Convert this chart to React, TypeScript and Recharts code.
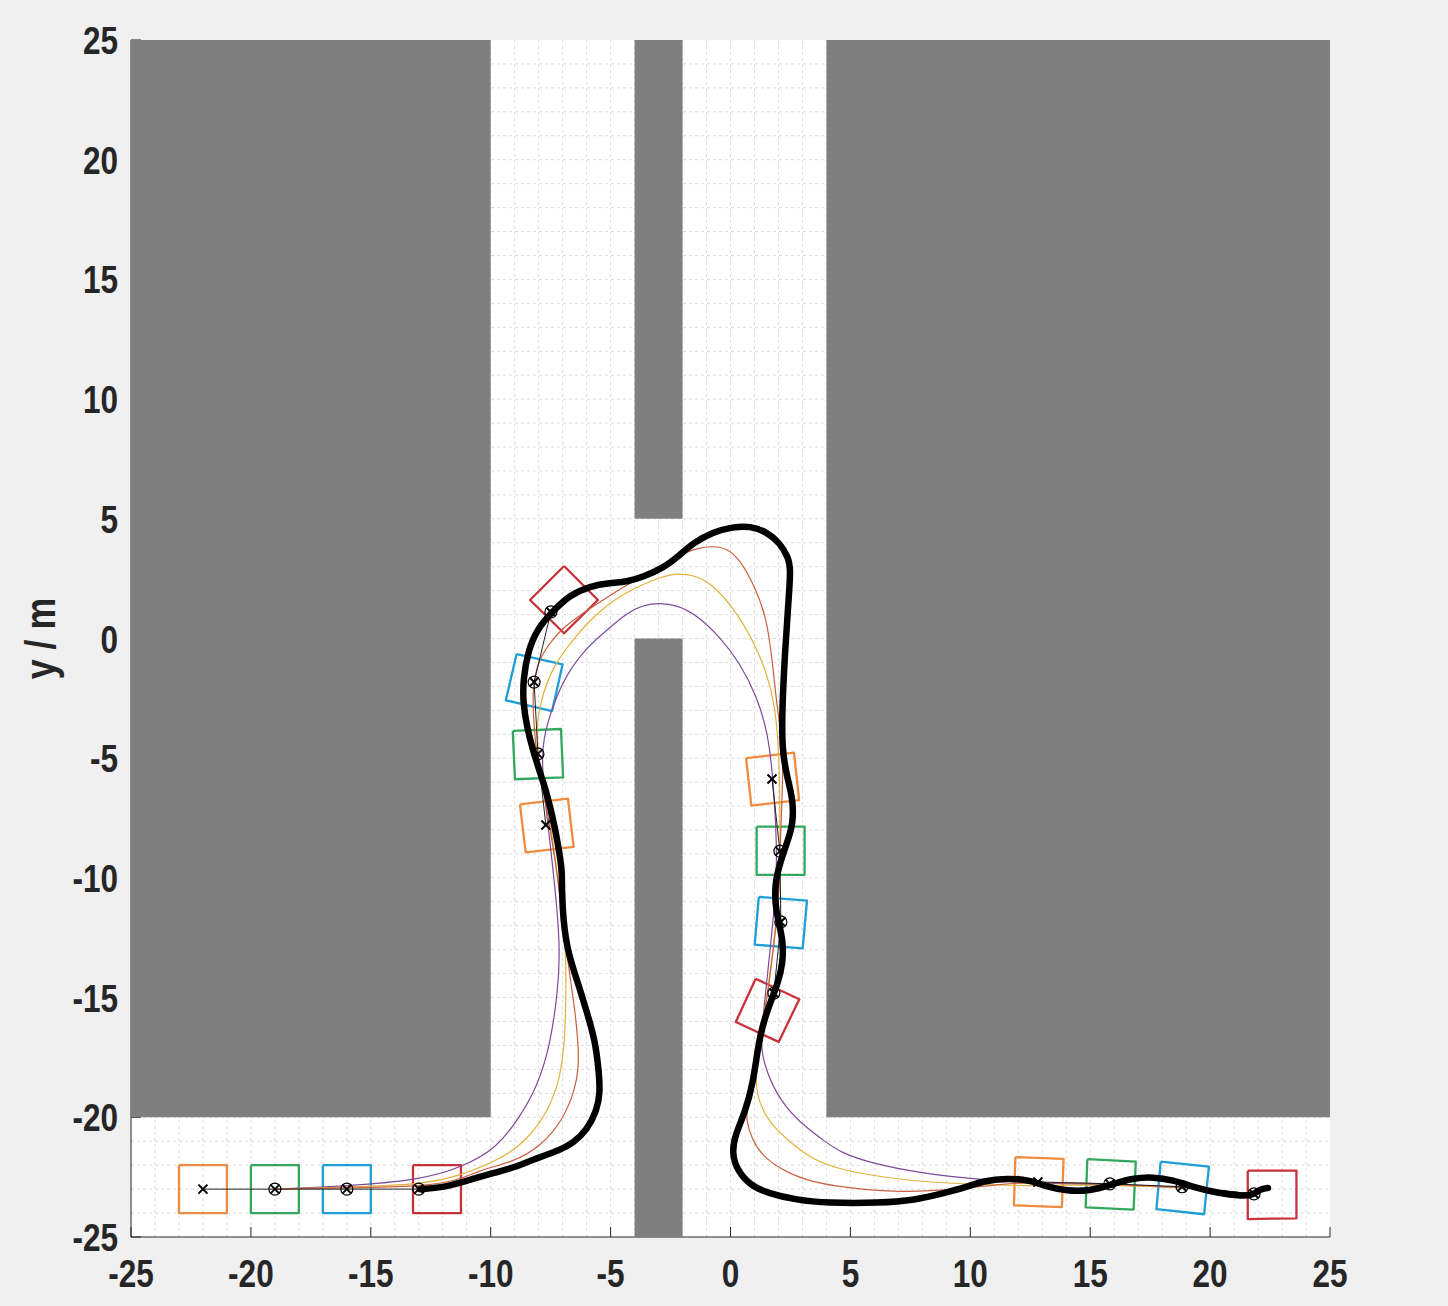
import { ComposedChart, CartesianGrid, Line, ReferenceArea, Scatter, XAxis, YAxis } from 'recharts';

type Pt = { x: number; y: number };
const pts = (raw: number[][]): Pt[] => raw.map(([x, y]) => ({ x, y }));

const tickValues = [-25, -20, -15, -10, -5, 0, 5, 10, 15, 20, 25];
const gridValues = [
  -24, -23, -22, -21, -20, -19, -18, -17, -16, -15, -14, -13, -12, -11, -10, -9, -8, -7, -6, -5, -4, -3, -2, -1, 0,
  1, 2, 3, 4, 5, 6, 7, 8, 9, 10, 11, 12, 13, 14, 15, 16, 17, 18, 19, 20, 21, 22, 23, 24,
];

// walls, as [x1, x2, y1, y2]
const walls = [
  [-25, -10, -20, 25],
  [4, 25, -20, 25],
  [-4, -2, 5, 25],
  [-4, -2, -25, 0],
];

// actual path (thick)
const actualPath = pts([
  [-12.95, -23], [-12.11, -22.95], [-11.16, -22.7], [-9.74, -22.28], [-9.07, -22.12], [-8.07, -21.7], [-7.11, -21.37],
  [-6.57, -21.08], [-5.98, -20.53], [-5.57, -19.7], [-5.44, -18.99], [-5.48, -18.15], [-5.65, -16.77], [-5.98, -15.64],
  [-6.4, -14.26], [-6.78, -13.14], [-6.98, -11.76], [-7.03, -10.51], [-7.03, -9.67], [-7.11, -9.13], [-7.32, -7.87],
  [-7.66, -6.45], [-7.94, -5.62], [-8.24, -4.66], [-8.49, -3.7], [-8.65, -2.69], [-8.65, -1.73], [-8.44, -0.48],
  [-8.03, 0.44], [-7.44, 1.11], [-6.7, 1.82], [-5.86, 2.19], [-5.03, 2.32], [-4.32, 2.36], [-3.65, 2.57], [-2.81, 2.94],
  [-2.11, 3.49], [-1.56, 3.99], [-0.73, 4.45], [0.1, 4.66], [0.81, 4.7], [1.52, 4.45], [2.06, 3.99], [2.4, 3.4],
  [2.52, 2.94], [2.4, 1.32], [2.27, -0.61], [2.15, -2.99], [2.15, -4.66], [2.36, -5.79], [2.61, -6.75], [2.61, -7.71],
  [2.4, -8.42], [2.06, -9.38], [1.86, -10.21], [1.86, -11.05], [1.98, -11.76], [2.19, -12.59], [2.19, -13.55],
  [1.98, -14.39], [1.65, -15.22], [1.31, -16.23], [1.11, -17.31], [0.94, -18.56], [0.6, -19.82], [0.19, -20.74],
  [0.06, -21.49], [0.27, -22.2], [0.81, -22.83], [1.52, -23.16], [2.77, -23.46], [4.02, -23.58], [6.23, -23.58],
  [7.69, -23.46], [8.94, -23.16], [9.86, -22.91], [10.53, -22.66], [11.53, -22.54], [12.49, -22.62], [13.2, -22.91],
  [14.03, -23.08], [14.99, -23.08], [15.83, -22.83], [16.78, -22.54], [17.62, -22.49], [18.45, -22.62], [19.29, -22.91],
  [20.29, -23.16], [21.37, -23.29], [21.79, -23.25], [22.08, -23], [22.41, -22.95],
]);

const brownPath = pts([
  [-19, -23], [-15.99, -22.95], [-12.95, -22.91], [-11.28, -22.62], [-10.45, -22.2], [-9.07, -21.87], [-7.94, -21.24],
  [-6.98, -20.11], [-6.49, -18.86], [-6.32, -17.9], [-6.36, -16.77], [-6.49, -15.52], [-6.69, -14.14], [-6.9, -12.59],
  [-7.11, -10.8], [-7.32, -9.13], [-7.82, -6.2], [-8.07, -5.08], [-8.24, -3.11], [-8.24, -2.03], [-8.03, -0.9],
  [-7.44, -0.06], [-6.98, 0.44], [-6.28, 0.98], [-5.32, 1.61], [-4.19, 2.32], [-3.07, 2.94], [-2.11, 3.49], [-1.4, 3.78],
  [-0.74, 3.86], [-0.15, 3.78], [0.4, 3.28], [0.94, 2.32], [1.52, 0.9], [1.77, -1.19], [1.94, -2.86], [2.15, -4.24],
  [2.19, -5.37], [2.15, -6.75], [2.06, -8.83], [2.06, -9.8], [1.98, -11.22], [1.77, -13.14], [1.52, -15.1], [1.23, -16.48],
  [0.94, -18.15], [0.69, -19.57], [0.65, -20.11], [0.9, -20.95], [1.36, -21.66], [2.36, -22.33], [3.44, -22.7],
  [4.57, -22.91], [7.07, -23.16], [9.57, -23], [11.24, -22.79], [12.82, -22.7], [15.82, -22.78], [18.83, -22.91], [21.83, -23.2],
]);

const yellowPath = pts([
  [-19, -23], [-15.99, -22.91], [-12.95, -22.83], [-11.16, -22.41], [-9.49, -21.7], [-8.49, -20.95], [-7.65, -19.82],
  [-7.11, -18.44], [-6.9, -16.77], [-6.86, -14.68], [-6.86, -13.3], [-6.98, -11.88], [-7.19, -10.09], [-7.32, -9.13],
  [-7.65, -6.75], [-7.94, -5.62], [-8.07, -4.24], [-8.07, -3.4], [-7.82, -2.28], [-7.4, -1.19], [-6.69, -0.19],
  [-5.86, 0.77], [-4.9, 1.61], [-3.9, 2.15], [-2.94, 2.57], [-2.11, 2.74], [-1.4, 2.61], [-0.74, 2.23], [0.1, 1.32],
  [0.94, -0.06], [1.52, -1.44], [1.86, -2.86], [1.98, -4.24], [2.06, -6.04], [2.06, -8.12], [2.06, -9.8], [1.98, -11.22],
  [1.77, -13.01], [1.52, -14.97], [1.23, -16.77], [1.02, -18.15], [1.11, -19.15], [1.52, -20.11], [2.36, -20.95],
  [3.44, -21.78], [4.57, -22.2], [7.07, -22.62], [9.57, -22.79], [12.61, -22.87], [13.87, -22.83], [15.82, -22.83],
  [18.83, -22.91], [21.83, -23.2],
]);

const purplePath = pts([
  [-19, -23], [-15.99, -22.87], [-12.95, -22.62], [-11.16, -22.08], [-9.74, -21.28], [-8.78, -19.99], [-8.07, -18.73],
  [-7.53, -17.06], [-7.19, -14.68], [-7.11, -13.01], [-7.24, -11.22], [-7.44, -9.25], [-7.74, -6.75], [-7.86, -5.2],
  [-7.82, -4.24], [-7.44, -2.86], [-6.82, -1.44], [-5.98, -0.36], [-5.15, 0.36], [-4.32, 1.07], [-3.65, 1.4], [-2.94, 1.48],
  [-2.23, 1.4], [-1.4, 0.98], [-0.44, 0.06], [0.39, -1.02], [1.11, -2.44], [1.56, -3.95], [1.77, -5.79], [1.9, -7.87],
  [1.94, -9.8], [1.77, -11.88], [1.52, -14.26], [1.31, -16.23], [1.27, -17.19], [1.52, -18.15], [2.06, -19.28], [2.9, -20.24],
  [4.02, -21.07], [4.57, -21.45], [5.82, -21.91], [7.9, -22.33], [10.53, -22.62], [12.78, -22.75], [14.7, -22.79],
  [15.82, -22.83], [18.83, -22.91], [21.83, -23.2],
]);

// waypoint groups, first point of each is the plain x
const waypointGroups = [
  pts([[-22, -23], [-19, -23], [-16, -23], [-13, -23]]),
  pts([[-7.7, -7.79], [-8.03, -4.82], [-8.19, -1.82], [-7.49, 1.11]]),
  pts([[1.73, -5.87], [2.06, -8.88], [2.1, -11.84], [1.81, -14.81]]),
  pts([[12.82, -22.7], [15.82, -22.78], [18.83, -22.9], [21.83, -23.2]]),
];

const boxColors = ['#ee8b3f', '#31a85b', '#1f9fd6', '#c9313a'];

// vehicle footprints, corners in order orange, green, blue, red per group
const boxGroups = [
  [
    [[-23, -22], [-21, -22], [-21, -24], [-23, -24]],
    [[-20, -22], [-18, -22], [-18, -24], [-20, -24]],
    [[-17, -22], [-15, -22], [-15, -24], [-17, -24]],
    [[-13.24, -22], [-11.24, -22], [-11.24, -24], [-13.24, -24]],
  ],
  [
    [[-8.78, -6.93], [-6.78, -6.69], [-6.54, -8.7], [-8.54, -8.93]],
    [[-9.08, -3.86], [-7.07, -3.78], [-6.98, -5.8], [-8.99, -5.88]],
    [[-8.92, -0.65], [-7, -1.08], [-7.44, -3.03], [-9.37, -2.58]],
    [[-6.94, 3.03], [-5.53, 1.61], [-6.94, 0.22], [-8.36, 1.61]],
  ],
  [
    [[0.65, -5], [2.65, -4.77], [2.86, -6.75], [0.87, -6.98]],
    [[1.09, -7.86], [3.09, -7.86], [3.09, -9.87], [1.09, -9.87]],
    [[1.18, -10.79], [3.19, -10.95], [3.01, -12.94], [1.01, -12.79]],
    [[1.05, -14.21], [2.87, -15.07], [2.01, -16.85], [0.22, -16.02]],
  ],
  [
    [[11.88, -21.66], [13.89, -21.74], [13.82, -23.75], [11.82, -23.68]],
    [[14.88, -21.75], [16.9, -21.85], [16.81, -23.86], [14.81, -23.76]],
    [[17.94, -21.85], [19.95, -22.06], [19.75, -24.05], [17.76, -23.84]],
    [[21.57, -22.23], [23.6, -22.23], [23.6, -24.22], [21.57, -24.25]],
  ],
];

const FONT = '"Liberation Sans", Arial, sans-serif';
const NARROW = 0.83; // no narrow bold font here, so squeeze the regular bold

function XTick({ x, y, payload }: any) {
  return (
    <text
      transform={`translate(${x},${y + 29}) scale(${NARROW},1)`}
      textAnchor="middle"
      fontFamily={FONT}
      fontWeight={700}
      fontSize={38}
      fill="#262626"
    >
      {payload.value}
    </text>
  );
}

function YTick({ x, y, payload }: any) {
  return (
    <text
      transform={`translate(${x},${y + 14}) scale(${NARROW},1)`}
      textAnchor="end"
      fontFamily={FONT}
      fontWeight={700}
      fontSize={38}
      fill="#262626"
    >
      {payload.value}
    </text>
  );
}

function YLabel({ viewBox }: any) {
  return (
    <text
      transform={`translate(${viewBox.x - 6},${viewBox.y + viewBox.height / 2}) rotate(-90) scale(${NARROW},1)`}
      textAnchor="middle"
      fontFamily={FONT}
      fontWeight={700}
      fontSize={43}
      fill="#262626"
    >
      y / m
    </text>
  );
}

function CrossMark({ cx, cy }: any) {
  return (
    <path d={`M${cx - 4.5} ${cy - 4.5}L${cx + 4.5} ${cy + 4.5}M${cx - 4.5} ${cy + 4.5}L${cx + 4.5} ${cy - 4.5}`} stroke="#000" strokeWidth={2} fill="none" />
  );
}

function CircleCrossMark({ cx, cy }: any) {
  return (
    <g>
      <circle cx={cx} cy={cy} r={6} fill="none" stroke="#000" strokeWidth={1.2} />
      <CrossMark cx={cx} cy={cy} />
    </g>
  );
}

export default function App() {
  return (
    <div style={{ position: 'absolute', left: 0, top: 0, width: 1448, height: 1306, background: '#f0f0f0' }}>
      <ComposedChart width={1448} height={1306} margin={{ left: 61, top: 40, right: 118, bottom: 39 }}>
        <CartesianGrid
          fill="#ffffff"
          stroke="#dcdcdc"
          strokeDasharray="3 3"
          horizontalValues={gridValues}
          verticalValues={gridValues}
        />
        <XAxis
          type="number"
          dataKey="x"
          domain={[-25, 25]}
          ticks={tickValues}
          interval={0}
          allowDataOverflow
          height={30}
          tickSize={-10}
          tickMargin={31}
          tick={XTick}
          stroke="#262626"
          zIndex={50}
        />
        <XAxis
          xAxisId="top"
          orientation="top"
          type="number"
          dataKey="x"
          domain={[-25, 25]}
          ticks={tickValues}
          interval={0}
          allowDataOverflow
          height={0}
          tickSize={-10}
          tick={() => <g />}
          stroke="#262626"
          zIndex={50}
        />
        <YAxis
          type="number"
          dataKey="y"
          domain={[-25, 25]}
          ticks={tickValues}
          interval={0}
          allowDataOverflow
          width={70}
          tickSize={-10}
          tickMargin={23}
          tick={YTick}
          stroke="#262626"
          zIndex={50}
          label={<YLabel />}
        />
        <YAxis
          yAxisId="right"
          orientation="right"
          type="number"
          dataKey="y"
          domain={[-25, 25]}
          ticks={tickValues}
          interval={0}
          allowDataOverflow
          width={0}
          tickSize={-10}
          tick={() => <g />}
          stroke="#262626"
          zIndex={50}
        />
        {walls.map(([x1, x2, y1, y2], i) => (
          <ReferenceArea key={`wall-${i}`} x1={x1} x2={x2} y1={y1} y2={y2} fill="#7f7f7f" fillOpacity={1} stroke="none" />
        ))}
        {boxGroups.flatMap((group, g) =>
          group.map((corners, b) => (
            <Line
              key={`box-${g}-${b}`}
              data={pts([...corners, corners[0]])}
              dataKey="y"
              type="linear"
              stroke={boxColors[b]}
              strokeWidth={2.3}
              strokeLinejoin="round"
              dot={false}
              legendType="none"
              isAnimationActive={false}
            />
          )),
        )}
        {[purplePath, yellowPath, brownPath].map((d, i) => (
          <Line
            key={`plan-${i}`}
            data={d}
            dataKey="y"
            type="basis"
            stroke={['#7e4a9e', '#e3b23c', '#c9603f'][i]}
            strokeWidth={1.2}
            dot={false}
            legendType="none"
            isAnimationActive={false}
          />
        ))}
        {waypointGroups.map((d, i) => (
          <Line
            key={`way-${i}`}
            data={d}
            dataKey="y"
            type="linear"
            stroke="#222222"
            strokeWidth={1}
            dot={false}
            legendType="none"
            isAnimationActive={false}
          />
        ))}
        <Line
          data={actualPath}
          dataKey="y"
          type="basis"
          stroke="#000000"
          strokeWidth={6.5}
          strokeLinecap="round"
          dot={false}
          legendType="none"
          isAnimationActive={false}
        />
        {waypointGroups.map((d, i) => (
          <Scatter key={`start-${i}`} data={d.slice(0, 1)} dataKey="y" shape={CrossMark} legendType="none" isAnimationActive={false} />
        ))}
        {waypointGroups.map((d, i) => (
          <Scatter key={`mark-${i}`} data={d.slice(1)} dataKey="y" shape={CircleCrossMark} legendType="none" isAnimationActive={false} />
        ))}
      </ComposedChart>
    </div>
  );
}
